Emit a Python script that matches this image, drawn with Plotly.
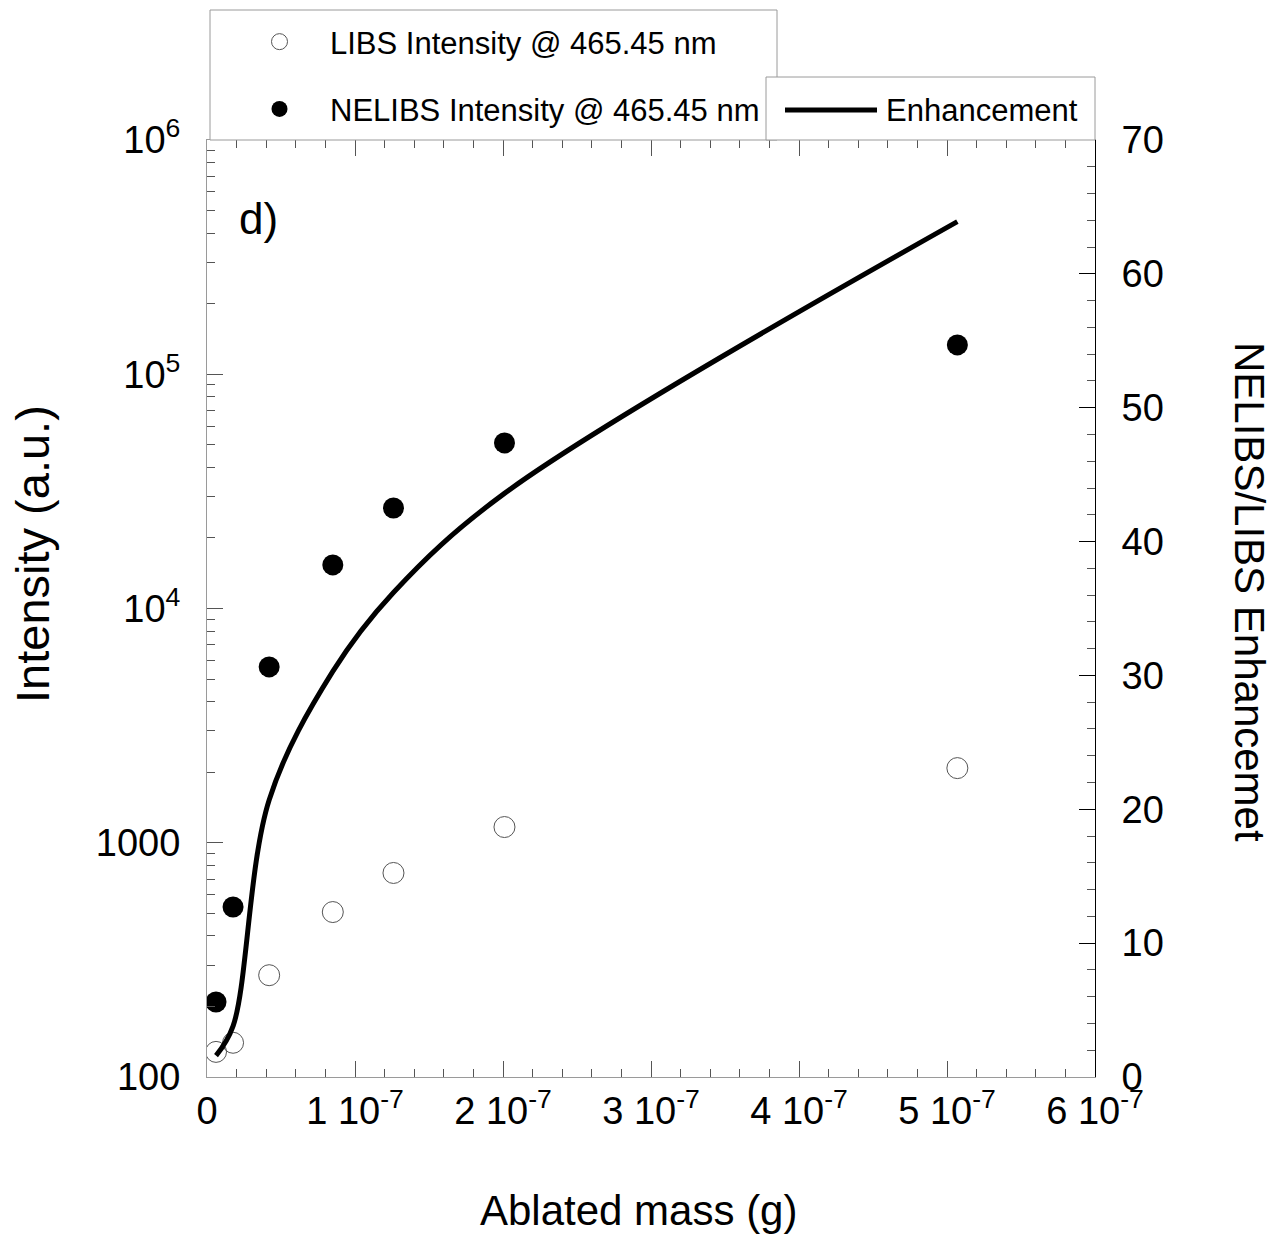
import plotly.graph_objects as go

# Ablated mass (g) for each measurement
ablated_mass = [0.61e-8, 1.76e-8, 4.2e-8, 8.5e-8, 1.26e-7, 2.01e-7, 5.07e-7]

# Line intensity at 465.45 nm (a.u.)
libs_intensity = [128, 140, 272, 506, 743, 1167, 2083]
nelibs_intensity = [209, 532, 5630, 15350, 26860, 50900, 133400]

# NELIBS/LIBS enhancement factor
enhancement = [1.6, 3.8, 20.7, 30.3, 36.2, 43.6, 63.9]

x_tick_vals = [0, 1e-7, 2e-7, 3e-7, 4e-7, 5e-7, 6e-7]
x_tick_text = ["0"] + [f"{i} 10<sup>-7</sup>" for i in range(1, 7)]
y_tick_vals = [100, 1000, 1e4, 1e5, 1e6]
y_tick_text = ["100", "1000", "10<sup>4</sup>", "10<sup>5</sup>", "10<sup>6</sup>"]
y_minor_vals = [m * 10 ** d for d in range(2, 6) for m in range(2, 10)]

FONT = "Liberation Sans, Arial, sans-serif"
AXIS_GRAY = "#9a9a9a"
TICK_GRAY = "#555555"

# plot area in pixels: x 207..1095, y 140..1077
PX_L, PX_R, PX_T, PX_B = 207, 1095, 140, 1077


def px(xp):
    return (xp - PX_L) / (PX_R - PX_L)


def py(yp):
    return (PX_B - yp) / (PX_B - PX_T)


fig = go.Figure()

fig.add_trace(go.Scatter(
    x=ablated_mass, y=libs_intensity, mode="markers",
    name="LIBS Intensity @ 465.45 nm",
    marker=dict(symbol="circle-open", size=21, color="#555555", line=dict(width=1)),
    legendgroup="a",
))
fig.add_trace(go.Scatter(
    x=ablated_mass, y=nelibs_intensity, mode="markers",
    name="NELIBS Intensity @ 465.45 nm",
    marker=dict(symbol="circle", size=21, color="black"),
    legendgroup="b",
))
fig.add_trace(go.Scatter(
    x=ablated_mass, y=enhancement, mode="lines", yaxis="y2",
    name="Enhancement", showlegend=False,
    line=dict(color="black", width=5, shape="spline", smoothing=1.0),
))

shapes = [
    # frame of the intensity legend
    dict(type="rect", xref="paper", yref="paper", x0=px(210), x1=px(777), y0=py(140), y1=py(10),
         line=dict(color=AXIS_GRAY, width=1), fillcolor="white", layer="above"),
    # frame and sample line of the enhancement legend
    dict(type="rect", xref="paper", yref="paper", x0=px(766), x1=px(1095), y0=py(140), y1=py(77),
         line=dict(color=AXIS_GRAY, width=1), fillcolor="white", layer="above"),
    dict(type="line", xref="paper", yref="paper", x0=px(785), x1=px(877), y0=py(110), y1=py(110),
         line=dict(color="black", width=5), layer="above"),
]

fig.update_layout(
    width=1277, height=1234,
    margin=dict(l=PX_L, r=1277 - PX_R, t=PX_T, b=1234 - PX_B),
    paper_bgcolor="white", plot_bgcolor="white",
    font=dict(family=FONT, size=38, color="black"),
    showlegend=True,
    xaxis=dict(
        range=[0, 6e-7], tickmode="array", tickvals=x_tick_vals, ticktext=x_tick_text,
        ticks="inside", ticklen=16, tickwidth=1, tickcolor=TICK_GRAY,
        minor=dict(dtick=2e-8, tick0=0, ticks="inside", ticklen=8, tickcolor=TICK_GRAY),
        showline=True, linecolor=AXIS_GRAY, linewidth=1, mirror="ticks",
        showgrid=False, zeroline=False, tickfont=dict(size=38),
    ),
    yaxis=dict(
        type="log", range=[2, 6], tickmode="array", tickvals=y_tick_vals, ticktext=y_tick_text,
        ticks="inside", ticklen=16, tickwidth=1, tickcolor=TICK_GRAY,
        minor=dict(tickmode="array", tickvals=y_minor_vals, ticks="inside", ticklen=8, tickcolor=TICK_GRAY),
        showline=True, linecolor=AXIS_GRAY, linewidth=1,
        showgrid=False, zeroline=False, tickfont=dict(size=38), ticklabelstandoff=18,
    ),
    yaxis2=dict(
        overlaying="y", side="right", range=[0, 70], dtick=10, tick0=0,
        ticks="inside", ticklen=16, tickwidth=1, tickcolor="black",
        minor=dict(dtick=2, ticks="inside", ticklen=8, tickcolor=TICK_GRAY),
        showline=True, linecolor="black", linewidth=1,
        showgrid=False, zeroline=False, tickfont=dict(size=38), ticklabelstandoff=18,
    ),
    legend=dict(
        x=px(229), y=py(15), xanchor="left", yanchor="top",
        bgcolor="rgba(0,0,0,0)", borderwidth=0,
        font=dict(size=31), tracegroupgap=24, traceorder="grouped",
        itemsizing="trace", itemwidth=91,
    ),
    shapes=shapes,
    annotations=[
        dict(text="Enhancement", xref="paper", yref="paper", x=px(884), y=py(110),
             xanchor="left", yanchor="middle", showarrow=False, font=dict(size=31)),
        dict(text="d)", xref="paper", yref="paper", x=px(237), y=py(218),
             xanchor="left", yanchor="middle", showarrow=False, font=dict(size=44)),
        dict(text="Ablated mass (g)", xref="paper", yref="paper", x=px(638), y=py(1210),
             xanchor="center", yanchor="middle", showarrow=False, font=dict(size=42)),
        dict(text="Intensity (a.u.)", xref="paper", yref="paper", x=px(32), y=py(554),
             xanchor="center", yanchor="middle", textangle=-90, showarrow=False, font=dict(size=47)),
        dict(text="NELIBS/LIBS Enhancemet", xref="paper", yref="paper", x=px(1250), y=py(592),
             xanchor="center", yanchor="middle", textangle=90, showarrow=False, font=dict(size=42)),
    ],
)

fig.write_html("out.html")
